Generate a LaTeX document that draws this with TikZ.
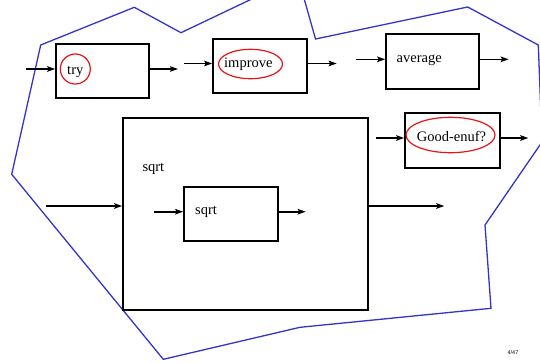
\documentclass[tikz,border=0pt]{standalone}
\usepackage{fontspec}
\setmainfont{Liberation Serif}
\newfontfamily\pgsans{Liberation Sans}
\usetikzlibrary{arrows.meta,shapes.geometric}
\definecolor{hullblue}{RGB}{52,52,204}
\definecolor{markred}{RGB}{230,20,20}
\begin{document}
\begin{tikzpicture}[x=1pt,y=-1pt,
  box/.style={draw=black,line width=1.6pt,inner sep=0pt},
  arr/.style={draw=black,line width=1.6pt,-{Stealth[length=8pt,width=5.5pt,inset=1.5pt]}},
  redmark/.style={draw=markred,line width=1.2pt,inner sep=0pt},
  lbl/.style={inner sep=0pt,font=\fontsize{14.5}{17}\selectfont},
  hull/.style={draw=hullblue,line width=1.3pt,line join=miter}]
\useasboundingbox (0,0) rectangle (540,362);
\begin{scope}
\clip (0,0) rectangle (540,362);
\draw[hull] (40.7,45) -- (134.3,7.3) -- (181,32.7) -- (298,-23) -- (315.5,39)
  -- (467.7,7) -- (538.3,45) -- (542,142) -- (485,225) -- (491,308.3)
  -- (300,327.3) -- (163.3,359.3) -- (11.7,174.3) -- cycle;
\end{scope}

% boxes
\node[box,minimum width=93pt,minimum height=54pt] (try) at (102.5,71) {};
\node[box,minimum width=94pt,minimum height=54pt] (improve) at (260,66) {};
\node[box,minimum width=93pt,minimum height=55pt] (average) at (432.5,61.5) {};
\node[box,minimum width=245pt,minimum height=192pt] (big) at (245.5,214) {};
\node[box,minimum width=94pt,minimum height=54pt] (inner) at (231,214) {};
\node[box,minimum width=95pt,minimum height=55pt] (good) at (452.5,140.5) {};

% red marks
\node[redmark,circle,minimum size=30pt] (trymark) at (75.3,69) {};
\node[redmark,ellipse,minimum width=64pt,minimum height=29.4pt] (impmark) at (250.5,64) {};
\node[redmark,ellipse,minimum width=89pt,minimum height=35.4pt] (goodmark) at (450.5,135) {};

% labels
\node[lbl,anchor=base] (trytext) at (75.3,74) {try};
\node[lbl,anchor=base west] (imptext) at (224,67.5) {improve};
\node[lbl,anchor=base west] (avgtext) at (396.5,62.7) {average};
\node[lbl,anchor=base west] (bigtext) at (142.3,171.5) {sqrt};
\node[lbl,anchor=base west] (innertext) at (195,214.5) {sqrt};
\node[lbl,anchor=base west] (goodtext) at (416.7,141.7) {Good-enuf?};
\node[inner sep=0pt,font=\pgsans\fontsize{5.5}{7}\selectfont] (page) at (513,353) {4/47};

% free ends
\coordinate (tryin) at (26,69);
\coordinate (tryout) at (178,69);
\coordinate (impin) at (184,63.5);
\coordinate (impout) at (336.7,63.5);
\coordinate (avgin) at (356.3,59.3);
\coordinate (avgout) at (508.7,59.3);
\coordinate (goodin) at (376,138);
\coordinate (goodout) at (528.3,138);
\coordinate (bigin) at (46,206);
\coordinate (bigout) at (444.3,206);
\coordinate (innerin) at (154.3,211.7);
\coordinate (innerout) at (305.7,211.7);

% connectors
\draw[arr] (tryin) -- (tryin -| try.west);
\draw[arr] (tryout -| try.east) -- (tryout);
\draw[arr] (impin) -- (impin -| improve.west);
\draw[arr] (impout -| improve.east) -- (impout);
\draw[arr] (avgin) -- (avgin -| average.west);
\draw[arr] (avgout -| average.east) -- (avgout);
\draw[arr] (goodin) -- (goodin -| good.west);
\draw[arr] (goodout -| good.east) -- (goodout);
\draw[arr] (bigin) -- (bigin -| big.west);
\draw[arr] (bigout -| big.east) -- (bigout);
\draw[arr] (innerin) -- (innerin -| inner.west);
\draw[arr] (innerout -| inner.east) -- (innerout);
\end{tikzpicture}
\end{document}
